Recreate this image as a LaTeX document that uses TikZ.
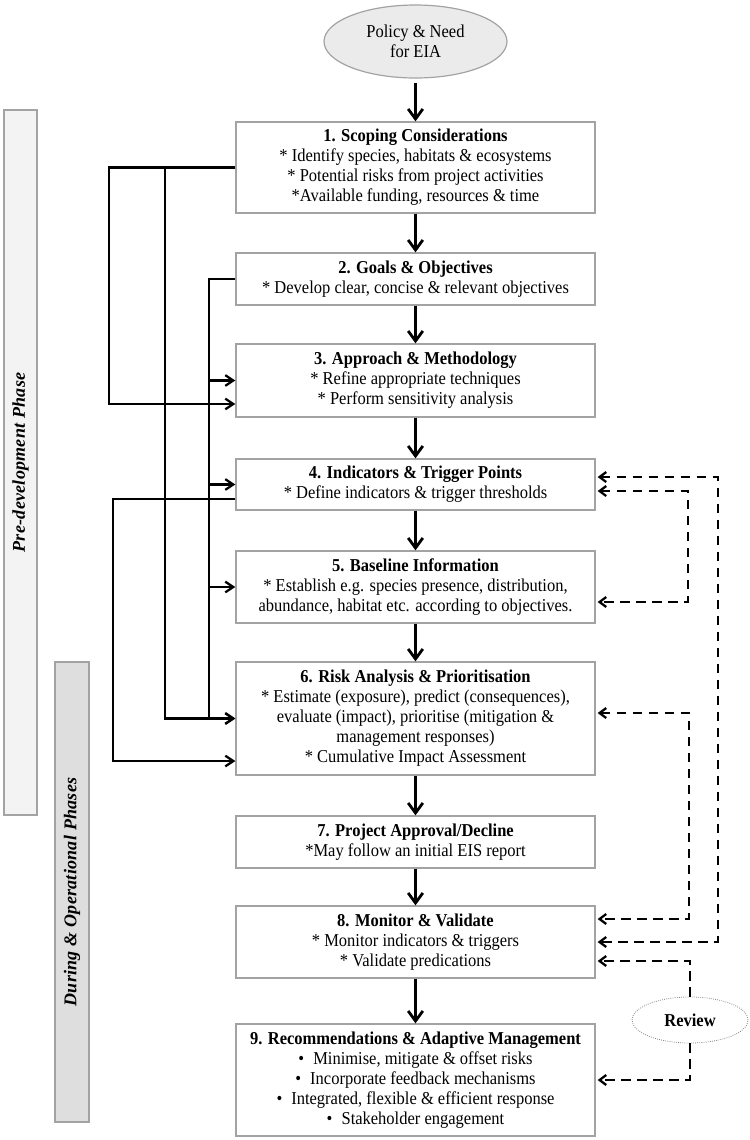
\documentclass[tikz,border=0pt]{standalone}
\usepackage{fontspec}
\setmainfont{Liberation Serif}[FakeStretch=0.91]
\newfontfamily\rotfont{Liberation Serif}[LetterSpace=1.5]
\usetikzlibrary{arrows.meta,shapes.geometric,calc}
\definecolor{boxgray}{HTML}{A3A3A3}
\definecolor{prefill}{HTML}{F3F3F3}
\definecolor{durfill}{HTML}{DEDEDE}
\definecolor{ellfill}{HTML}{EBEBEB}
\tikzset{dtip/.tip={Straight Barb[length=5pt,width=7.5pt,line width=1.7pt]}}
\begin{document}
\begin{tikzpicture}[x=0.75pt,y=-0.75pt,
  txt/.style={font=\fontsize{13.6}{15}\selectfont},
  box/.style={txt,draw=boxgray,line width=1pt,fill=white,minimum width=269.25pt,inner sep=0pt,align=center},
  bar/.style={draw=boxgray,line width=0.9pt,inner sep=0pt,rotate=90,font=\rotfont\bfseries\itshape\fontsize{13.5}{15}\selectfont},
  varrow/.style={line width=2.1pt,-{Straight Barb[length=7.5pt,width=11pt,line width=2.1pt]}},
  lconn/.style={line width=1.7pt},
  larrow/.style={lconn,-{Straight Barb[length=6pt,width=8pt,line width=1.7pt]}},
  dconn/.style={line width=1.7pt,dash pattern=on 7pt off 5pt,shorten <=1.5pt,shorten >=1.5pt}
]
\useasboundingbox (0,0) rectangle (750,1140);

% phase bars
\node[bar,fill=prefill,minimum width=528.75pt,minimum height=24.75pt] (pre) at (20.5,462.5) {Pre-development Phase};
\node[bar,fill=durfill,minimum width=345pt,minimum height=25.5pt] (dur) at (72,892) {During \& Operational Phases};

% start ellipse
\node[txt,ellipse,draw=boxgray,line width=0.9pt,fill=ellfill,minimum width=137.25pt,minimum height=54.75pt,inner sep=0pt,align=center] (pol) at (415.5,41.5) {Policy \& Need\\for EIA};

% boxes
\node[box,minimum height=68.25pt] (b1) at (415.5,167.5) {\textbf{1. Scoping Considerations}\\* Identify species, habitats \& ecosystems\\* Potential risks from project activities\\*Available funding, resources \& time};
\node[box,minimum height=39pt] (b2) at (415.5,279) {\textbf{2. Goals \& Objectives}\\* Develop clear, concise \& relevant objectives};
\node[box,minimum height=54.75pt] (b3) at (415.5,380.5) {\textbf{3. Approach \& Methodology}\\* Refine appropriate techniques\\* Perform sensitivity analysis};
\node[box,minimum height=38.25pt] (b4) at (415.5,484.5) {\textbf{4. Indicators \& Trigger Points}\\* Define indicators \& trigger thresholds};
\node[box,minimum height=54pt] (b5) at (415.5,587) {\textbf{5. Baseline Information}\\* Establish e.g. species presence, distribution,\\abundance, habitat etc. according to objectives.};
\node[box,minimum height=84.75pt] (b6) at (415.5,718.5) {\textbf{6. Risk Analysis \& Prioritisation}\\* Estimate (exposure), predict (consequences),\\evaluate (impact), prioritise (mitigation \&\\management responses)\\* Cumulative Impact Assessment};
\node[box,minimum height=39pt] (b7) at (415.5,842) {\textbf{7. Project Approval/Decline}\\*May follow an initial EIS report};
\node[box,minimum height=54pt] (b8) at (415.5,942) {\textbf{8. Monitor \& Validate}\\* Monitor indicators \& triggers\\* Validate predications};
\node[box,minimum height=84pt] (b9) at (415.5,1080) {\textbf{9. Recommendations \& Adaptive Management}\\\textbullet\enspace Minimise, mitigate \& offset risks\\\textbullet\enspace Incorporate feedback mechanisms\\\textbullet\enspace Integrated, flexible \& efficient response\\\textbullet\enspace Stakeholder engagement};

% review ellipse
\node[ellipse,draw=gray,densely dotted,line width=0.6pt,minimum width=87pt,minimum height=34.5pt,inner sep=0pt,font=\fontsize{13.6}{15}\selectfont\bfseries] (rev) at (690,1020) {Review};

% main vertical arrows
\draw[varrow,shorten <=3pt] (pol.south) -- (b1.north);
\foreach \a/\b in {b1/b2,b2/b3,b3/b4,b4/b5,b5/b6,b6/b7,b7/b8,b8/b9}
  \draw[varrow] (\a.south) -- (\b.north);

% left feedback connectors
\draw[larrow] (b1.west) -- ++(-126,0) |- ([yshift=-17.6pt]b3.west);
\draw[larrow] ([xshift=-52.5pt]b1.west) |- (b6.west);
\draw[larrow] (b2.west) -- ++(-26,0) coordinate (cx) |- (b6.west);
\draw[larrow] (cx |- b3.west) -- (b3.west);
\draw[larrow] (cx |- b4.west) -- (b4.west);
\draw[larrow] (cx |- b5.west) -- (b5.west);
\draw[larrow] ([yshift=-10.9pt]b4.west) -- ++(-122,0) |- ([yshift=-31.9pt]b6.west);

% right dashed connectors
\draw[dconn,dtip-dtip] ([yshift=5.6pt]b4.east) -- ++(122,0) |- (b8.east);
\draw[dconn,dtip-dtip] ([yshift=-4.9pt]b4.east) -- ++(92,0) |- ([yshift=-11.25pt]b5.east);
\draw[dconn,dtip-dtip] ([yshift=4.1pt]b6.east) -- ++(93,0) |- ([yshift=17.25pt]b8.east);
\draw[dconn,shorten <=0pt,-dtip] (rev.north) |- ([yshift=-14.25pt]b8.east);
\draw[dconn,shorten <=0pt,-dtip] (rev.south) |- (b9.east);
\end{tikzpicture}
\end{document}
